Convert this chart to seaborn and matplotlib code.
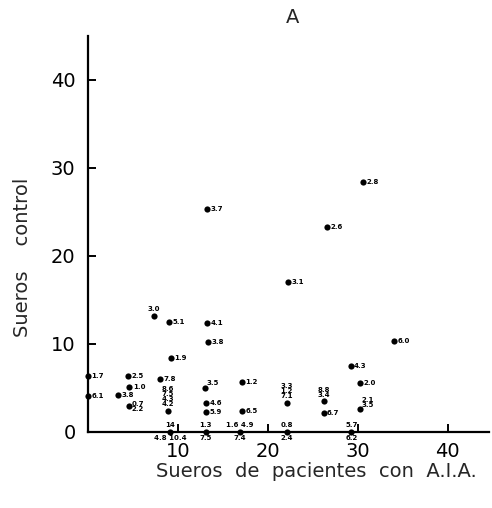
import matplotlib
matplotlib.use("Agg")
import numpy as np
import pandas as pd
import matplotlib.pyplot as plt
import seaborn as sns

# ---------------------------------------------------------------
# Data (A): patient sera vs control sera
# ---------------------------------------------------------------
x_pacientes = [0.0, 0.0, 4.4, 4.6, 3.3, 4.5, 8.0, 8.9, 9.2, 9.0, 7.3, 9.1,
               13.2, 13.2, 13.3, 13.0, 13.1, 13.1, 13.1, 17.1, 17.1, 16.9,
               22.1, 22.1, 22.2, 26.6, 30.6, 34.0, 29.2, 30.2, 26.2, 26.2,
               30.2, 29.3]
y_control = [6.3, 4.1, 6.3, 5.1, 4.2, 2.9, 6.0, 2.4, 8.4, 12.5, 13.2, 0.0,
             25.3, 12.4, 10.2, 5.0, 3.3, 2.2, 0.0, 5.6, 2.4, 0.0,
             3.3, 0.0, 17.0, 23.3, 28.4, 10.3, 7.5, 5.5, 3.5, 2.1,
             2.6, 0.0]
etiqueta = ["1.7", "6.1", "2.5", "1.0", "3.8", "0.7\n2.2", "7.8",
            "8.6\n7.5\n4.3\n4.2", "1.9", "5.1", "3.0", "14",
            "3.7", "4.1", "3.8", "3.5", "4.6", "5.9", "1.3", "1.2", "6.5",
            "1.6 4.9", "3.3\n1.2\n7.1", "0.8", "3.1", "2.6", "2.8", "6.0",
            "4.3", "2.0", "8.8\n3.4", "6.7", "2.1\n3.5", "5.7"]
debajo = ["", "", "", "", "", "", "", "", "", "", "", "4.8 10.4",
          "", "", "", "", "", "", "7.5", "", "", "7.4",
          "", "2.4", "", "", "", "", "", "", "", "", "", "6.2"]

# where each label sits relative to its dot (r = right, a = above, ar = above-right)
lugar = ["r", "r", "r", "r", "r", "r", "r", "a", "r", "r", "a", "a",
         "r", "r", "r", "ar", "r", "r", "a", "r", "r", "a",
         "a", "a", "r", "r", "r", "r", "r", "r", "a", "r", "ar", "a"]

df = pd.DataFrame({"pacientes": x_pacientes, "control": y_control})

# ---------------------------------------------------------------
# Plot
# ---------------------------------------------------------------
sns.set_theme(style="white")
plt.rcParams["font.family"] = ["DejaVu Sans"]

fig = plt.figure(figsize=(4.92, 5.08), dpi=100)
ax = fig.add_axes([0.179, 0.150, 0.815, 0.78])

sns.scatterplot(data=df, x="pacientes", y="control", color="black",
                edgecolor="black", s=20, linewidth=0, ax=ax, clip_on=False,
                zorder=5)

lbl_kw = dict(fontsize=5, fontweight="bold", color="black",
              textcoords="offset points", linespacing=0.8)
for xi, yi, txt, sub, pos in zip(x_pacientes, y_control, etiqueta, debajo, lugar):
    if pos == "r":
        ax.annotate(txt, (xi, yi), xytext=(2.5, 0), ha="left", va="center", **lbl_kw)
    elif pos == "ar":
        ax.annotate(txt, (xi, yi), xytext=(1.5, 1), ha="left", va="bottom", **lbl_kw)
    else:
        ax.annotate(txt, (xi, yi), xytext=(0, 2.5), ha="center", va="bottom", **lbl_kw)
    if sub:
        ax.annotate(sub, (xi, yi), xytext=(0, -2.5), ha="center", va="top", **lbl_kw)

ax.set_xlim(0, 44.6)
ax.set_ylim(0, 45)
ax.set_xticks([10, 20, 30, 40])
ax.set_yticks([0, 10, 20, 30, 40])
ax.set_xticks([44.6], minor=True)
ax.set_yticks([45], minor=True)
ax.tick_params(which="major", direction="in", length=6, width=1.4,
               labelsize=14, colors="black", pad=9)
ax.tick_params(which="minor", direction="inout", length=9, width=1.4,
               colors="black")
ax.tick_params(axis="x", which="major", bottom=True, pad=7)
ax.tick_params(axis="y", which="major", left=True)

for side in ["top", "right"]:
    ax.spines[side].set_visible(False)
for side in ["left", "bottom"]:
    ax.spines[side].set_linewidth(1.6)
    ax.spines[side].set_color("black")

ax.set_xlabel("Sueros  de  pacientes  con  A.I.A.", fontsize=14)
ax.xaxis.set_label_coords(0.57, -0.075)
ax.set_ylabel("Sueros    control", fontsize=14)
ax.yaxis.set_label_coords(-0.14, 0.44)
ax.set_title("A", fontsize=14, pad=9, x=0.51)

fig.savefig("out.png", dpi=100, facecolor="white")
